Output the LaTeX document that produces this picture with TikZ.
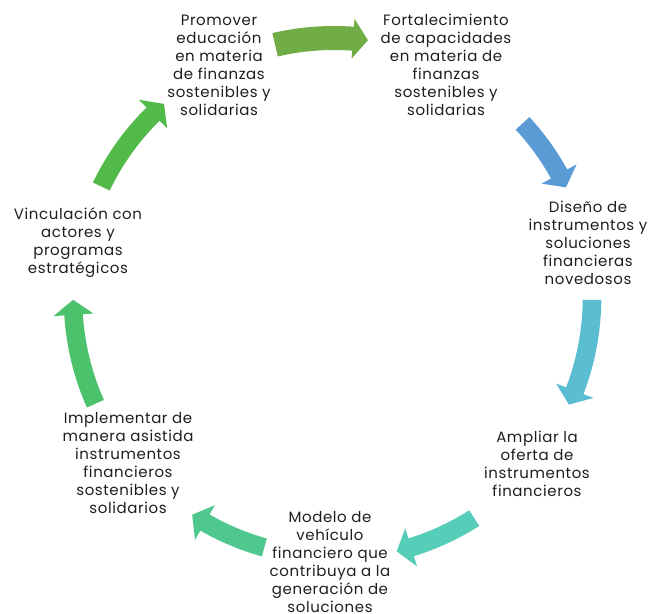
\documentclass[tikz,border=0pt]{standalone}
\usepackage{fontspec}
\setmainfont[LetterSpace=4]{Poppins}
\usetikzlibrary{calc}
\definecolor{ca}{HTML}{70AD47}
\definecolor{cb}{HTML}{5B9BD5}
\definecolor{cc}{HTML}{5BBDD2}
\definecolor{cd}{HTML}{55CDB9}
\definecolor{ce}{HTML}{4FC78F}
\definecolor{cf}{HTML}{4BC26B}
\definecolor{cg}{HTML}{52BA48}
\definecolor{txt}{HTML}{1E1E1E}
\newcommand\barr[6]{%
 \pgfmathsetmacro\myah{#2+15/#3*57.2958}%
 \pgfmathsetmacro\myro{#3+#4}\pgfmathsetmacro\myri{#3-#4}%
 \pgfmathsetmacro\myha{#3+#5}\pgfmathsetmacro\myhb{#3-#5}%
 \fill[#6] ($(c)+(#1:\myro pt)$) arc[start angle=#1,end angle=\myah,radius=\myro pt]
   -- ($(c)+(\myah:\myha pt)$) -- ($(c)+(#2:#3pt)$) -- ($(c)+(\myah:\myhb pt)$)
   -- ($(c)+(\myah:\myri pt)$) arc[start angle=\myah,end angle=#1,radius=\myri pt] -- cycle;}
\tikzset{lbl/.style={align=center,text=txt,font=\fontsize{15}{18}\selectfont,inner sep=0pt}}
\begin{document}
\begin{tikzpicture}[x=1pt,y=1pt]
\useasboundingbox (0,0) rectangle (650,613);
\coordinate (c) at (334,315);
% arrows
\barr{103.1}{82.5}{260}{12}{20}{ca}
\barr{42.8}{25.5}{257}{9.3}{20}{cb}
\barr{-0.4}{-24.4}{258}{9.3}{20}{cc}
\barr{-57.5}{-76.1}{261}{9.3}{20}{cd}
\barr{-105.6}{-123.2}{259}{9.3}{20}{ce}
\barr{203.9}{180.4}{261}{9.3}{20}{cf}
\barr{154.4}{131.2}{258}{9.3}{20}{cg}
% labels
\node[lbl] (n1) at (219,548) {Promover\\educación\\en materia\\de finanzas\\sostenibles y\\solidarias};
\node[lbl] (n2) at (446,548) {Fortalecimiento\\de capacidades\\en materia de\\finanzas\\sostenibles y\\solidarias};
\node[lbl] (n3) at (588,370) {Diseño de\\instrumentos y\\soluciones\\financieras\\novedosos};
\node[lbl] (n4) at (537,149) {Ampliar la\\oferta de\\instrumentos\\financieros};
\node[lbl] (n5) at (330,51) {Modelo de\\vehículo\\financiero que\\contribuya a la\\generación de\\soluciones};
\node[lbl] (n6) at (128,150) {Implementar de\\manera asistida\\instrumentos\\financieros\\sostenibles y\\solidarios};
\node[lbl] (n7) at (78,370) {Vinculación con\\actores y\\programas\\estratégicos};
\end{tikzpicture}
\end{document}
